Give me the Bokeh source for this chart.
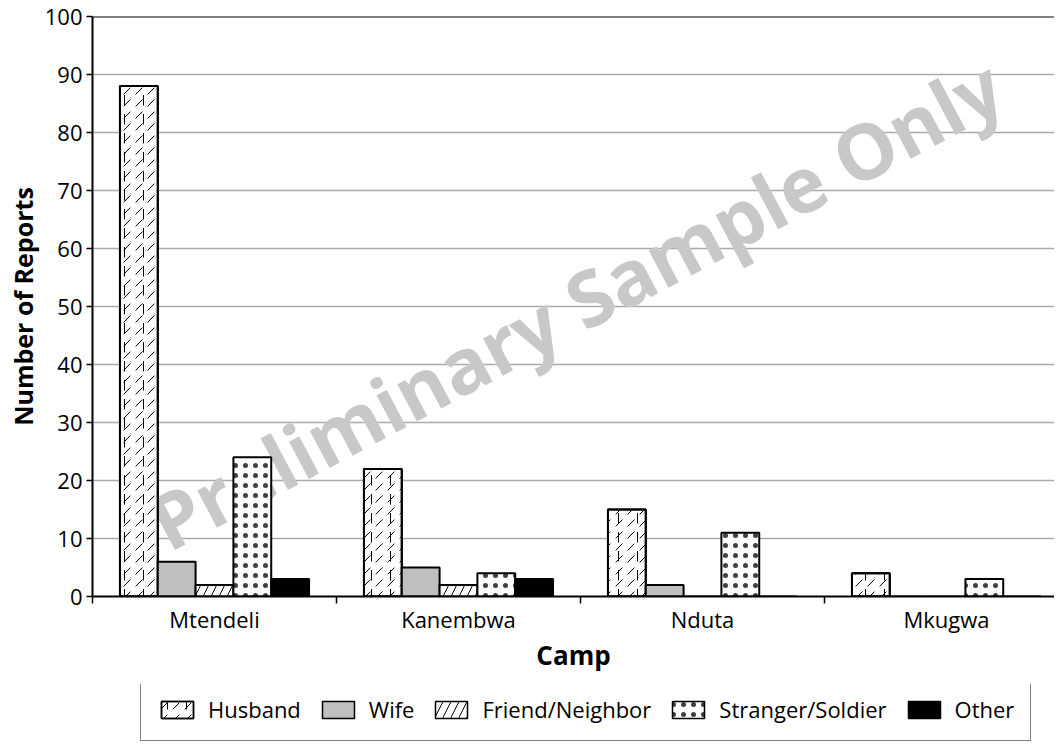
import numpy as np
from bokeh.plotting import figure
from bokeh.layouts import column
from bokeh.models import (Range1d, FixedTicker, Legend, LegendItem, Span, Label,
                          ColumnDataSource)
from bokeh.embed import file_html
from bokeh.resources import INLINE

# ---- data ----
camps = ["Mtendeli", "Kanembwa", "Nduta", "Mkugwa"]
series = ["Husband", "Wife", "Friend/Neighbor", "Stranger/Soldier", "Other"]
husband = [88, 22, 15, 4]
wife = [6, 5, 2, 0]
friend = [2, 2, 0, 0]
stranger = [24, 4, 11, 3]
other = [3, 3, 0, 0]
y_ticks = list(range(0, 101, 10))

values = [husband, wife, friend, stranger, other]

FONT = "Open Sans"
W = 1054
H_MAIN = 684
H_LEG = 58
LEFT = 92
cat_px = 244.0
frame_w = W - LEFT
x_end = frame_w / cat_px

p = figure(width=W, height=H_MAIN, output_backend="svg", toolbar_location=None,
           x_range=Range1d(0, x_end), y_range=Range1d(0, 100),
           min_border_left=LEFT, min_border_right=0, min_border_top=16,
           min_border_bottom=88)
p.outline_line_color = None
p.background_fill_color = "white"
p.border_fill_color = "white"

# grid
p.xgrid.visible = False
p.ygrid.ticker = FixedTicker(ticks=y_ticks)
p.ygrid.grid_line_color = "#aaaaaa"
p.ygrid.grid_line_width = 1.5

# watermark (under bars)
wm = Label(x=1.98, y=50.5, x_units="data", y_units="data", text="Preliminary Sample Only",
           angle=28, angle_units="deg", text_align="center", text_baseline="middle",
           text_font=FONT, text_font_size="77px", text_font_style="bold",
           text_color="#c8c8c8", level="underlay")
p.add_layout(wm)

# bars
bw = 0.155
offsets = [-2 * bw, -bw, 0.0, bw, 2 * bw]
centers = np.arange(len(camps)) + 0.5
styles = [
    dict(fill_color="white", hatch_pattern=",", hatch_scale=12, hatch_weight=1, hatch_color="black"),
    dict(fill_color="#bfbfbf"),
    dict(fill_color="white", hatch_pattern="/", hatch_scale=16, hatch_weight=1, hatch_color="black"),
    dict(fill_color="white", hatch_pattern=".", hatch_scale=10, hatch_weight=0.3,
         hatch_color="black", hatch_alpha=0.75),
    dict(fill_color="black"),
]
extra_husband = dict(fill_alpha=0, hatch_pattern=":", hatch_scale=19, hatch_weight=1,
                     hatch_color="black")

sources = []
for name, vals, off, st in zip(series, values, offsets, styles):
    src = ColumnDataSource(dict(x=centers + off, top=vals))
    sources.append(src)
    p.vbar(x="x", top="top", bottom=0, width=bw, source=src,
           line_color="black", line_width=2, **st)
    if name == "Husband":
        p.vbar(x="x", top="top", bottom=0, width=bw, source=src,
               line_color="black", line_width=2, **extra_husband)

# top line
p.add_layout(Span(location=100, dimension="width", line_color="black", line_width=2))

# x axis
xa = p.xaxis[0]
xa.ticker = FixedTicker(ticks=list(centers), minor_ticks=list(range(len(camps) + 1)))
xa.major_label_overrides = {float(c): n for c, n in zip(centers, camps)}
xa.major_tick_out = 0
xa.major_tick_in = 0
xa.minor_tick_out = 7
xa.minor_tick_in = 0
xa.minor_tick_line_color = "black"
xa.minor_tick_line_width = 1.5
xa.axis_line_width = 2
xa.axis_line_color = "black"
xa.major_label_text_font = FONT
xa.major_label_text_font_size = "22px"
xa.major_label_text_color = "black"
xa.major_label_standoff = 0
xa.axis_label = "Camp"
xa.axis_label_text_font = FONT
xa.axis_label_text_font_size = "26px"
xa.axis_label_text_font_style = "bold"
xa.axis_label_text_color = "black"
xa.axis_label_standoff = 0

# y axis
ya = p.yaxis[0]
ya.ticker = FixedTicker(ticks=y_ticks)
ya.minor_tick_line_color = None
ya.major_tick_out = 6
ya.major_tick_in = 0
ya.major_tick_line_width = 1.5
ya.axis_line_width = 2
ya.major_label_text_font = FONT
ya.major_label_text_font_size = "22px"
ya.major_label_text_color = "black"
ya.major_label_standoff = 4
ya.axis_label = "Number of Reports"
ya.axis_label_text_font = FONT
ya.axis_label_text_font_size = "25px"
ya.axis_label_text_font_style = "bold"
ya.axis_label_text_color = "black"
ya.axis_label_standoff = 2

# ---- legend strip (separate figure below the chart; its renderers are hidden) ----
lg = figure(width=W, height=H_LEG, output_backend="svg", toolbar_location=None,
            x_range=Range1d(0, x_end), y_range=Range1d(0, 100),
            min_border_left=0, min_border_right=0, min_border_top=0, min_border_bottom=0)
lg.axis.visible = False
lg.grid.visible = False
lg.outline_line_color = None
lg.background_fill_color = "white"
lg.border_fill_color = "white"

items = []
for name, st, src in zip(series, styles, sources):
    rs = [lg.vbar(x="x", top="top", bottom=0, width=bw, source=src, visible=False,
                  line_color="black", line_width=1.5, **st)]
    if name == "Husband":
        rs.append(lg.vbar(x="x", top="top", bottom=0, width=bw, source=src, visible=False,
                          line_color="black", line_width=1.5, **extra_husband))
    items.append(LegendItem(label=name, renderers=rs, index=0))

legend = Legend(items=items, orientation="horizontal", location=(48, 1),
                label_text_font=FONT, label_text_font_size="22px",
                label_text_color="black",
                glyph_width=40, glyph_height=21, label_standoff=11, spacing=17,
                padding=16, margin=0,
                inactive_fill_alpha=0,
                border_line_color="black", border_line_width=1.2,
                background_fill_color="white")
lg.add_layout(legend)

layout = column(p, lg, spacing=0)
open("out.html", "w").write(file_html(layout, INLINE))
